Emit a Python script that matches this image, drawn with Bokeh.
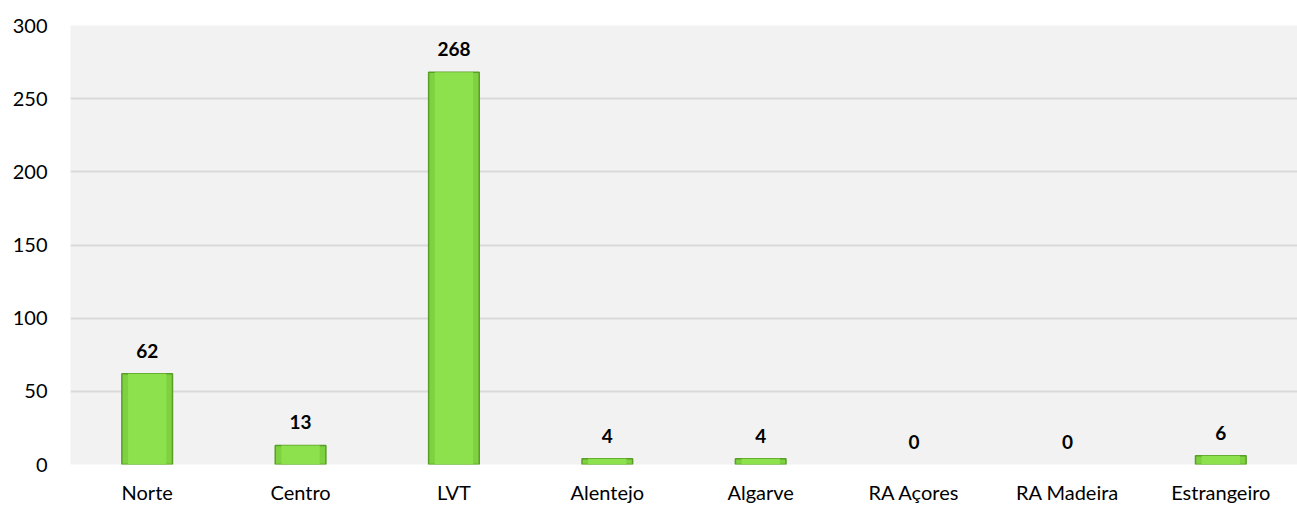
from bokeh.plotting import figure
from bokeh.models import ColumnDataSource, FixedTicker, LabelSet, Range1d
from bokeh.core.properties import value
from bokeh.embed import file_html
from bokeh.resources import INLINE

regions = ["Norte", "Centro", "LVT", "Alentejo", "Algarve", "RA Açores", "RA Madeira", "Estrangeiro"]
counts = [62, 13, 268, 4, 4, 0, 0, 6]
y_ticks = [0, 50, 100, 150, 200, 250, 300]

edge = ["#5A9E2A" if c > 0 else None for c in counts]
source = ColumnDataSource(dict(x=regions, top=counts, label=[str(c) for c in counts], edge=edge))

p = figure(x_range=regions, width=1297, height=506, output_backend="svg",
           toolbar_location=None, background_fill_color="#F2F2F2",
           border_fill_color="white", outline_line_color=None,
           min_border_left=70, min_border_right=0, min_border_top=25, min_border_bottom=41)
p.y_range = Range1d(0, 300)
p.x_range.range_padding = 0

p.vbar(x="x", top="top", width=0.33, source=source, fill_color="#7ED13F",
       line_color="edge", line_width=1.5)
p.vbar(x="x", top="top", width=0.25, source=source, fill_color="#8DE14C",
       line_color=None)

labels = LabelSet(x="x", y="top", text="label", source=source, y_offset=16,
                  text_align="center", text_baseline="bottom", text_font=value("Lato"),
                  text_font_style="bold", text_font_size="19px", text_color="black")
p.add_layout(labels)

p.yaxis.ticker = FixedTicker(ticks=y_ticks)
p.ygrid.grid_line_color = "#D9D9D9"
p.ygrid.grid_line_width = 2
p.xgrid.grid_line_color = None
for ax in (p.xaxis, p.yaxis):
    ax.axis_line_color = None
    ax.major_tick_line_color = None
    ax.minor_tick_line_color = None
    ax.major_label_text_font = "Lato"
    ax.major_label_text_font_size = "20px"
    ax.major_label_text_color = "black"
p.yaxis.major_label_standoff = 17
p.xaxis.major_label_standoff = 9

open("out.html", "w").write(file_html(p, INLINE))
